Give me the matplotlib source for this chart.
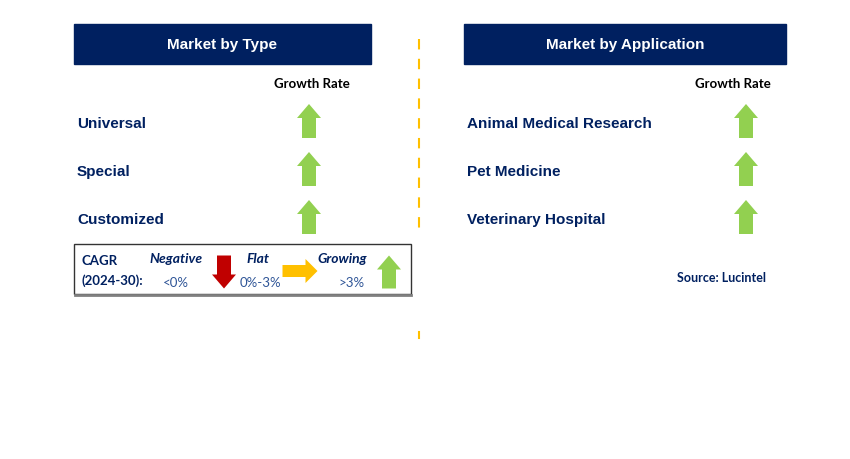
import matplotlib.pyplot as plt
from matplotlib.patches import Rectangle, FancyArrow

plt.rcParams['font.family'] = ['Liberation Sans', 'DejaVu Sans']

navy = '#002060'
green = '#92D050'

types = ['Universal', 'Special', 'Customized']
type_growth = ['up', 'up', 'up']
apps = ['Animal Medical Research', 'Pet Medicine', 'Veterinary Hospital']
app_growth = ['up', 'up', 'up']
legend_names = ['Negative', 'Flat', 'Growing']
legend_ranges = ['<0%', '0%-3%', '>3%']
legend_dirs = ['down', 'right', 'up']
legend_colors = ['#C00000', '#FFC000', green]

fig = plt.figure(figsize=(8.5, 4.6), dpi=100)
ax = fig.add_axes([0, 0, 1, 1])
ax.set_xlim(0, 850)
ax.set_ylim(460, 0)
ax.axis('off')


def arrow(cx, cy, d, color, size=34, shaft=14, head=24, hl=14):
    if d == 'up':
        a = FancyArrow(cx, cy + size / 2, 0, -size, width=shaft, head_width=head,
                       head_length=hl, length_includes_head=True, color=color, lw=0)
    elif d == 'down':
        a = FancyArrow(cx, cy - size / 2, 0, size, width=shaft, head_width=head,
                       head_length=hl, length_includes_head=True, color=color, lw=0)
    else:
        a = FancyArrow(cx - size / 2, cy, size, 0, width=shaft, head_width=head,
                       head_length=hl, length_includes_head=True, color=color, lw=0)
    ax.add_patch(a)


# header boxes
ax.add_patch(Rectangle((74, 25), 297, 40, color=navy))
ax.text(222, 45, 'Market by Type', color='white', fontsize=11, fontweight='bold',
        ha='center', va='center')
ax.add_patch(Rectangle((464, 25), 322, 40, color=navy))
ax.text(625, 45, 'Market by Application', color='white', fontsize=11, fontweight='bold',
        ha='center', va='center')

ax.text(312, 84, 'Growth Rate', fontsize=9.5, fontweight='bold', ha='center', va='center',
        family=['Lato', 'DejaVu Sans'])
ax.text(733, 84, 'Growth Rate', fontsize=9.5, fontweight='bold', ha='center', va='center',
        family=['Lato', 'DejaVu Sans'])

rows = [124, 172, 220]
for i, (t, g) in enumerate(zip(types, type_growth)):
    ax.text(77, rows[i], t, color=navy, fontsize=11, fontweight='bold', va='center')
    arrow(309, rows[i] - 2, g, green)
for i, (t, g) in enumerate(zip(apps, app_growth)):
    ax.text(467, rows[i], t, color=navy, fontsize=11, fontweight='bold', va='center')
    arrow(746, rows[i] - 2, g, green)

# divider
ax.plot([419, 419], [40, 230], color='#FFC000', lw=1.5, ls=(0, (5, 4.5)))
ax.plot([419, 419], [333, 339], color='#FFC000', lw=1.5)

# legend box
ax.plot([75, 411], [295.5, 295.5], color='#808080', lw=2)
ax.add_patch(Rectangle((74.5, 245), 336.5, 50, fill=False, ec='#333333', lw=1))
ax.text(82, 261, 'CAGR', color=navy, fontsize=9.5, fontweight='bold', va='center',
        family=['Lato', 'DejaVu Sans'])
ax.text(82, 281, '(2024-30):', color=navy, fontsize=9.5, fontweight='bold', va='center',
        family=['Lato', 'DejaVu Sans'])
name_x = [176, 258, 342]
range_x = [176, 260, 352]
arrow_x = [224, 300, 389]
for i in range(3):
    ax.text(name_x[i], 259, legend_names[i], color=navy, fontsize=10, fontweight='bold',
            style='italic', ha='center', va='center', family=['Lato', 'DejaVu Sans'])
    ax.text(range_x[i], 283, legend_ranges[i], color='#2F5597', fontsize=9.5,
            ha='center', va='center', family=['Lato', 'DejaVu Sans'])
    if legend_dirs[i] == 'right':
        arrow(arrow_x[i], 272, 'right', legend_colors[i], size=35, shaft=12, head=24, hl=12)
    else:
        arrow(arrow_x[i], 273, legend_dirs[i], legend_colors[i], size=33)

ax.text(722, 278, 'Source: Lucintel', color=navy, fontsize=9, fontweight='bold',
        ha='center', va='center', family=['Lato', 'DejaVu Sans'])

fig.savefig('out.png', dpi=100)
